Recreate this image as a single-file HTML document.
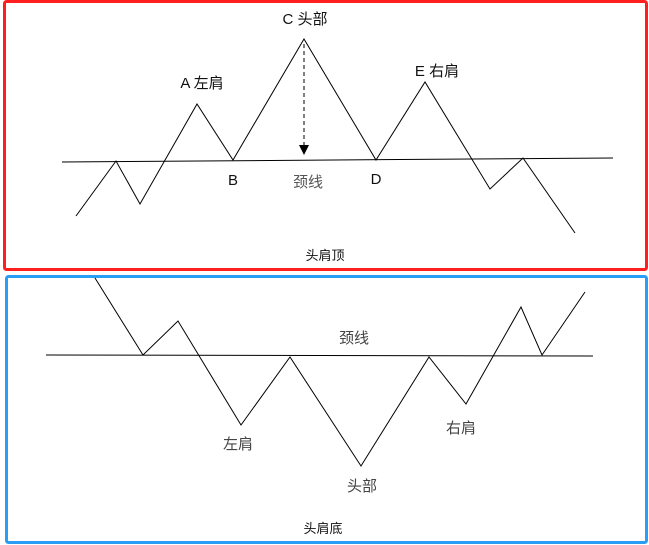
<!DOCTYPE html>
<html><head><meta charset="utf-8"><style>
html,body{margin:0;padding:0;background:#fff;width:649px;height:545px;overflow:hidden}
svg{display:block}
text{font-family:"Liberation Sans","Noto Sans CJK SC",sans-serif;font-size:15px;fill:#111}
</style></head><body>
<svg width="649" height="545" viewBox="0 0 649 545">
<rect x="4.5" y="1.5" width="642" height="268" fill="none" stroke="#ff1f1f" stroke-width="3" rx="2"/>
<rect x="6.5" y="276.5" width="640" height="266" fill="none" stroke="#2a9df4" stroke-width="3" rx="2"/>
<g fill="none" stroke="#000" stroke-width="1">
<line x1="62" y1="162" x2="613" y2="158"/>
<polyline points="76,216 116,161 140,204 197,104 233,160 304,39 376,160 425,82 490,189 523,158 575,233"/>
<line x1="46" y1="355" x2="593" y2="356"/>
<polyline points="95,278 143,355 178,321 241,425 290,357 361,466 429,357 466,404 521,307 542,355 585,292"/>
<line x1="304" y1="44" x2="304" y2="146" stroke-dasharray="4,3"/>
</g>
<polygon points="299,145 309,145 304,155" fill="#000"/>
<text x="305" y="24" text-anchor="middle">C 头部</text>
<text x="202" y="88" text-anchor="middle">A 左肩</text>
<text x="437" y="76" text-anchor="middle">E 右肩</text>
<text x="233" y="185" text-anchor="middle">B</text>
<text x="308" y="187" text-anchor="middle" style="fill:#555">颈线</text>
<text x="376" y="184" text-anchor="middle">D</text>
<text x="325" y="260" text-anchor="middle" style="font-size:13px">头肩顶</text>
<text x="354" y="343" text-anchor="middle" style="fill:#444">颈线</text>
<text x="238" y="449" text-anchor="middle" style="fill:#444">左肩</text>
<text x="362" y="491" text-anchor="middle" style="fill:#444">头部</text>
<text x="461" y="433" text-anchor="middle" style="fill:#444">右肩</text>
<text x="323" y="533" text-anchor="middle" style="font-size:13px">头肩底</text>
</svg>
</body></html>
